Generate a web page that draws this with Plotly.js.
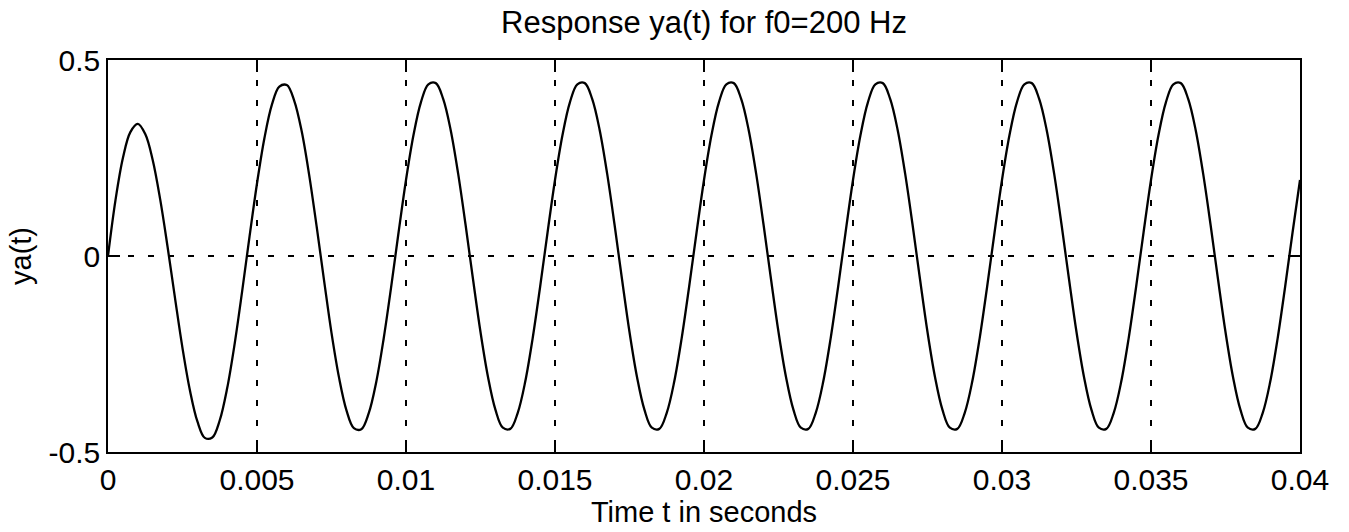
<!DOCTYPE html>
<html>
<head>
<meta charset="utf-8">
<script src="https://cdn.plot.ly/plotly-3.0.1.min.js"></script>
<style>html,body{margin:0;padding:0;background:#fff;}#chart{width:1349px;height:532px;}</style>
</head>
<body>
<div id="chart"></div>
<script>
// Sampling interval of the read-off curve (seconds)
const sampleStep = 0.00025;
// Response ya(t) values, one per sample (t = 0 ... 0.04)
const yaValues = [
  0.000, 0.142, 0.250, 0.316, 0.337, 0.311, 0.245, 0.145, 0.023, -0.108,
  -0.235, -0.343, -0.422, -0.464, -0.463, -0.419, -0.337, -0.224, -0.091, 0.050,
  0.185, 0.301, 0.386, 0.432, 0.436, 0.396, 0.318, 0.207, 0.076, -0.062,
  -0.196, -0.309, -0.393, -0.439, -0.442, -0.401, -0.322, -0.211, -0.080, 0.060,
  0.194, 0.308, 0.392, 0.438, 0.441, 0.400, 0.321, 0.210, 0.079, -0.060,
  -0.194, -0.308, -0.392, -0.438, -0.441, -0.400, -0.321, -0.210, -0.079, 0.060,
  0.194, 0.308, 0.392, 0.438, 0.441, 0.400, 0.321, 0.210, 0.079, -0.060,
  -0.194, -0.308, -0.392, -0.438, -0.441, -0.400, -0.321, -0.210, -0.079, 0.060,
  0.194, 0.308, 0.392, 0.438, 0.441, 0.400, 0.321, 0.210, 0.079, -0.060,
  -0.194, -0.308, -0.392, -0.438, -0.441, -0.400, -0.321, -0.210, -0.079, 0.060,
  0.194, 0.308, 0.392, 0.438, 0.441, 0.400, 0.321, 0.210, 0.079, -0.060,
  -0.194, -0.308, -0.392, -0.438, -0.441, -0.400, -0.321, -0.210, -0.079, 0.060,
  0.194, 0.308, 0.392, 0.438, 0.441, 0.400, 0.321, 0.210, 0.079, -0.060,
  -0.194, -0.308, -0.392, -0.438, -0.441, -0.400, -0.321, -0.210, -0.079, 0.060,
  0.194, 0.308, 0.392, 0.438, 0.441, 0.400, 0.321, 0.210, 0.079, -0.060,
  -0.194, -0.308, -0.392, -0.438, -0.441, -0.400, -0.321, -0.210, -0.079, 0.060,
  0.194
];
const timeValues = yaValues.map((_, i) => +(i * sampleStep).toFixed(5));

// Tick values and labels
const xTickVals = [0, 0.005, 0.01, 0.015, 0.02, 0.025, 0.03, 0.035, 0.04];
const xTickText = ["0", "0.005", "0.01", "0.015", "0.02", "0.025", "0.03", "0.035", "0.04"];
const yTickVals = [-0.5, 0, 0.5];
const yTickText = ["-0.5", "0", "0.5"];

const FONT = '"Liberation Sans", Arial, Helvetica, sans-serif';

const trace = {
  x: timeValues,
  y: yaValues,
  type: 'scatter',
  mode: 'lines',
  line: {color: '#000', width: 2.3, shape: 'spline', smoothing: 1},
  hoverinfo: 'x+y'
};

const axisCommon = {
  showline: true,
  linecolor: '#000',
  linewidth: 1.6,
  mirror: 'ticks',
  ticks: 'inside',
  ticklen: 12,
  tickwidth: 1.6,
  tickcolor: '#000',
  showgrid: true,
  gridcolor: '#000',
  gridwidth: 1.5,
  griddash: '6px,14px',
  zeroline: false,
  tickfont: {family: FONT, size: 30, color: '#000'},
  automargin: false
};

const layout = {
  width: 1349,
  height: 532,
  margin: {l: 108, r: 49, t: 60, b: 80},
  paper_bgcolor: '#fff',
  plot_bgcolor: '#fff',
  showlegend: false,
  font: {family: FONT, color: '#000'},
  title: {
    text: 'Response ya(t) for f0=200 Hz',
    font: {family: FONT, size: 31, color: '#000'},
    x: 0.5, xref: 'paper',
    y: 0.958, yref: 'container', yanchor: 'middle'
  },
  xaxis: Object.assign({}, axisCommon, {
    range: [0, 0.04],
    tickmode: 'array',
    tickvals: xTickVals,
    ticktext: xTickText,
    title: {text: 'Time t in seconds', font: {family: FONT, size: 29, color: '#000'}, standoff: 2}
  }),
  yaxis: Object.assign({}, axisCommon, {
    range: [-0.5, 0.5],
    tickmode: 'array',
    tickvals: yTickVals,
    ticktext: yTickText,
    title: {text: 'ya(t)', font: {family: FONT, size: 29, color: '#000'}, standoff: 8}
  })
};

Plotly.newPlot('chart', [trace], layout, {displayModeBar: false, responsive: false});
</script>
</body>
</html>
